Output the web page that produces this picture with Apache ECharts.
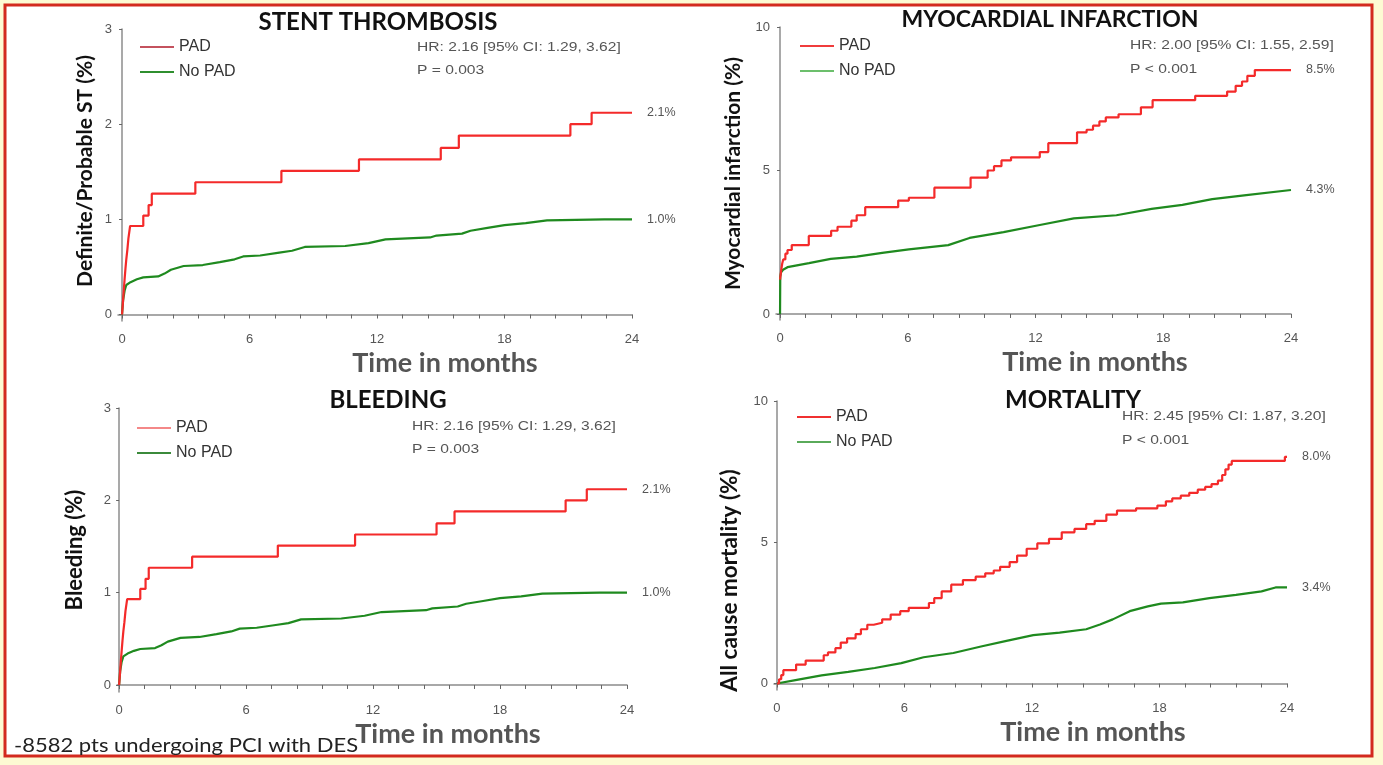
<!DOCTYPE html>
<html>
<head>
<meta charset="utf-8">
<script src="https://cdn.jsdelivr.net/npm/echarts@6/dist/echarts.min.js"></script>
<style>
  html, body { margin: 0; padding: 0; background: #fdfad3; }
  #chart { width: 1383px; height: 765px; }
</style>
</head>
<body>
<div id="chart"></div>
<script>
// time axis (months)
const monthLabels = [0, 6, 12, 18, 24];
const monthTicks = [0, 1.2, 2.4, 3.6, 4.8, 6, 7.2, 8.4, 9.6, 10.8, 12, 13.2, 14.4, 15.6, 16.8, 18, 19.2, 20.4, 21.6, 22.8, 24];
const ticks3 = [0, 1, 2, 3];
const ticks10 = [0, 5, 10];

// stent thrombosis  [month, %]
const stentPad = [[0,0],[0.04,0.12],[0.08,0.25],[0.12,0.37],[0.16,0.48],[0.2,0.58],[0.25,0.68],[0.3,0.8],[0.38,0.93],[1.0,1.04],[1.25,1.15],[1.4,1.27],[3.45,1.39],[7.5,1.51],[11.15,1.63],[15.0,1.75],[15.85,1.88],[21.1,2.0],[22.1,2.12],[24,2.12]];
const stentNoPad = [[0,0],[0.05,0.15],[0.12,0.25],[0.2,0.31],[0.4,0.34],[0.7,0.37],[1.0,0.39],[1.7,0.4],[2.0,0.43],[2.3,0.47],[2.9,0.51],[3.8,0.52],[4.6,0.55],[5.3,0.58],[5.7,0.61],[6.5,0.62],[7.4,0.65],[8.0,0.67],[8.6,0.71],[10.5,0.72],[11.6,0.75],[12.4,0.79],[14.5,0.81],[14.8,0.83],[16.0,0.85],[16.4,0.88],[17.2,0.91],[18.0,0.94],[19.0,0.96],[20.0,0.99],[22.7,1.0],[24,1.0]];

// myocardial infarction
const miPad = [[0,1.2],[0.05,1.5],[0.1,1.75],[0.15,1.9],[0.25,2.1],[0.35,2.23],[0.55,2.4],[1.35,2.72],[2.4,2.9],[2.7,3.04],[3.35,3.25],[3.6,3.44],[4.0,3.72],[5.55,3.95],[6.05,4.05],[7.25,4.4],[8.95,4.75],[9.75,5.0],[10.05,5.15],[10.4,5.35],[10.85,5.46],[12.2,5.64],[12.6,5.95],[13.95,6.33],[14.4,6.42],[14.7,6.56],[15.0,6.71],[15.3,6.85],[15.9,6.96],[16.95,7.2],[17.5,7.45],[19.5,7.6],[21.0,7.75],[21.4,7.95],[21.7,8.1],[21.95,8.3],[22.3,8.5],[24,8.5]];
const miNoPad = [[0,0],[0.01,1.3],[0.05,1.45],[0.14,1.54],[0.35,1.63],[1.36,1.77],[2.38,1.92],[3.6,2.0],[4.8,2.13],[6.05,2.25],[7.9,2.4],[8.9,2.65],[10.5,2.85],[12.2,3.1],[13.8,3.33],[15.8,3.44],[17.45,3.66],[18.9,3.8],[20.3,4.0],[21.9,4.14],[24,4.32]];

// bleeding (same curves as stent thrombosis in the source slide)
const bleedPad = stentPad;
const bleedNoPad = stentNoPad;

// all cause mortality
const mortPad = [[0,0],[0.1,0.15],[0.2,0.3],[0.3,0.47],[0.9,0.67],[1.35,0.81],[2.2,1.0],[2.4,1.1],[2.75,1.25],[3.0,1.45],[3.3,1.6],[3.7,1.75],[3.95,1.92],[4.25,2.08],[4.55,2.15],[4.95,2.27],[5.35,2.44],[5.8,2.56],[6.2,2.68],[7.15,2.85],[7.4,3.02],[7.75,3.26],[8.2,3.5],[8.75,3.66],[9.35,3.78],[9.8,3.9],[10.2,4.0],[10.5,4.13],[10.95,4.3],[11.3,4.53],[11.75,4.77],[12.25,4.96],[12.8,5.12],[13.4,5.35],[14.0,5.47],[14.55,5.64],[14.95,5.76],[15.5,5.98],[16.0,6.12],[16.9,6.2],[17.9,6.3],[18.3,6.45],[18.6,6.55],[19.0,6.65],[19.4,6.75],[19.8,6.86],[20.15,6.96],[20.45,7.06],[20.75,7.18],[20.95,7.38],[21.1,7.58],[21.25,7.75],[21.4,7.88],[23.9,8.02],[24,8.02]];
const mortNoPad = [[0,0],[0.87,0.12],[2.1,0.29],[3.35,0.41],[4.6,0.55],[5.85,0.72],[6.9,0.93],[8.3,1.08],[9.6,1.31],[10.8,1.51],[12.06,1.71],[13.3,1.8],[14.55,1.92],[15.2,2.09],[15.8,2.27],[16.6,2.56],[17.45,2.73],[18.07,2.83],[19.1,2.87],[20.35,3.02],[21.6,3.14],[22.8,3.26],[23.46,3.4],[24,3.4]];

const panels = [
  { title: 'STENT THROMBOSIS', yName: 'Definite/Probable ST (%)', pad: stentPad, noPad: stentNoPad,
    padEnd: '2.1%', noPadEnd: '1.0%', hr: 'HR: 2.16 [95% CI: 1.29, 3.62]', p: 'P = 0.003',
    yMax: 3, yMin: -0.068, xMin: -0.19, yTicks: ticks3,
    grid: { left: 118, right: 751, top: 29, bottom: 444 },
    titleXY: [378, 22], titleSize: 24, hrXY: [417, 47, 70], legendXY: [140, 38],
    legendColors: ['#c4525e', '#2f8f2f'], yGap: 22, yPadding: [0, 0, 0, 8], ySize: 21, xPad: 140 },
  { title: 'MYOCARDIAL INFARCTION', yName: 'Myocardial infarction (%)', pad: miPad, noPad: miNoPad,
    padEnd: '8.5%', noPadEnd: '4.3%', hr: 'HR: 2.00 [95% CI: 1.55, 2.59]', p: 'P < 0.001',
    yMax: 10, yMin: -0.21, xMin: -0.19, yTicks: ticks10,
    grid: { left: 776, right: 92, top: 27, bottom: 445 },
    titleXY: [1050, 20], titleSize: 23, hrXY: [1130, 45, 69], legendXY: [800, 37],
    legendColors: ['#f03c3c', '#6cbf6c'], yGap: 32, yPadding: [0, 0, 0, 0], ySize: 21, xPad: 123 },
  { title: 'BLEEDING', yName: 'Bleeding (%)', pad: bleedPad, noPad: bleedNoPad,
    padEnd: '2.1%', noPadEnd: '1.0%', hr: 'HR: 2.16 [95% CI: 1.29, 3.62]', p: 'P = 0.003',
    yMax: 3, yMin: -0.076, xMin: -0.1, yTicks: ticks3,
    grid: { left: 117, right: 756, top: 408, bottom: 73 },
    titleXY: [388, 400], titleSize: 24, hrXY: [412, 426, 449], legendXY: [137, 419],
    legendColors: ['#f48888', '#3b8a3b'], yGap: 31, yPadding: [0, 0, 0, 0], ySize: 22, xPad: 152 },
  { title: 'MORTALITY', yName: 'All cause mortality (%)', pad: mortPad, noPad: mortNoPad,
    padEnd: '8.0%', noPadEnd: '3.4%', hr: 'HR: 2.45 [95% CI: 1.87, 3.20]', p: 'P < 0.001',
    yMax: 10, yMin: -0.23, xMin: -0.14, yTicks: ticks10,
    grid: { left: 774, right: 96, top: 401, bottom: 75 },
    titleXY: [1073, 400], titleSize: 24, hrXY: [1122, 416, 440], legendXY: [797, 408],
    legendColors: ['#f03030', '#5aaa5a'], yGap: 33, yPadding: [0, 70, 0, 0], ySize: 22.5, xPad: 125 }
];

const RED = '#f42a2a';
const GREEN = '#1f8a1f';
const axisGray = '#8c8c8c';
const labelGray = '#555';

const grid = [], xAxis = [], yAxis = [], series = [], legend = [];
const graphic = [{
  type: 'rect', z: -10,
  shape: { x: 5, y: 5, width: 1367, height: 751 },
  style: { fill: '#fff', stroke: '#d32a1e', lineWidth: 3 }
}];

panels.forEach((p, i) => {
  grid.push(p.grid);
  xAxis.push({
    type: 'value', gridIndex: i, min: p.xMin, max: 24,
    name: 'Time in months', nameLocation: 'middle', nameGap: 29,
    nameTextStyle: { fontFamily: 'Lato', fontWeight: 'bold', fontSize: 27, color: '#555', padding: [0, 0, 0, p.xPad] },
    axisLine: { lineStyle: { color: axisGray, width: 1.5 } },
    axisTick: { customValues: monthTicks, length: 4, lineStyle: { color: '#666' } },
    axisLabel: { customValues: monthLabels, margin: 12, fontFamily: 'Liberation Sans', fontSize: 13, color: labelGray },
    splitLine: { show: false }
  });
  yAxis.push({
    type: 'value', gridIndex: i, min: p.yMin, max: p.yMax,
    name: p.yName, nameLocation: 'middle', nameGap: p.yGap,
    nameTextStyle: { fontFamily: 'Lato', fontWeight: 'bold', fontSize: p.ySize, color: '#111', padding: p.yPadding },
    axisLine: { show: true, lineStyle: { color: axisGray, width: 1.5 } },
    axisTick: { show: true, customValues: p.yTicks, length: 3, lineStyle: { color: '#666' } },
    axisLabel: { customValues: p.yTicks, margin: 6, fontFamily: 'Liberation Sans', fontSize: 13, color: labelGray },
    splitLine: { show: false }
  });
  const endLabel = (txt) => ({ show: true, formatter: txt, distance: 15, fontFamily: 'Liberation Sans', fontSize: 12.5, color: '#555' });
  series.push({
    name: 'PAD', type: 'line', xAxisIndex: i, yAxisIndex: i, data: p.pad, step: 'end',
    symbol: 'none', color: RED, lineStyle: { width: 2.2, color: RED }, endLabel: endLabel(p.padEnd), z: 4
  });
  series.push({
    name: 'No PAD', type: 'line', xAxisIndex: i, yAxisIndex: i, data: p.noPad,
    symbol: 'none', color: GREEN, lineStyle: { width: 2.2, color: GREEN }, endLabel: endLabel(p.noPadEnd), z: 3
  });
  legend.push({
    orient: 'vertical', left: p.legendXY[0], top: p.legendXY[1], padding: 0,
    itemWidth: 34, itemHeight: 2, itemGap: 7, icon: 'rect',
    textStyle: { fontFamily: 'Liberation Sans', fontSize: 16, color: '#333', lineHeight: 18 },
    data: [
      { name: 'PAD', itemStyle: { color: p.legendColors[0], borderWidth: 0 } },
      { name: 'No PAD', itemStyle: { color: p.legendColors[1], borderWidth: 0 } }
    ]
  });
  graphic.push({
    type: 'text', x: p.titleXY[0], y: p.titleXY[1],
    style: { text: p.title, font: 'bold ' + p.titleSize + 'px Lato', fill: '#111', align: 'center', textAlign: 'center', verticalAlign: 'middle', textVerticalAlign: 'middle' }
  });
  graphic.push({
    type: 'text', x: p.hrXY[0], y: p.hrXY[1], scaleX: 1.2,
    style: { text: p.hr, font: '13px "Liberation Sans"', fill: '#555', verticalAlign: 'middle', textVerticalAlign: 'middle' }
  });
  graphic.push({
    type: 'text', x: p.hrXY[0], y: p.hrXY[2], scaleX: 1.2,
    style: { text: p.p, font: '13px "Liberation Sans"', fill: '#555', verticalAlign: 'middle', textVerticalAlign: 'middle' }
  });
});

graphic.push({
  type: 'text', x: 14, y: 746, scaleX: 1.1,
  style: { text: '-8582 pts undergoing PCI with DES', font: '20px Lato', fill: '#222', verticalAlign: 'middle', textVerticalAlign: 'middle' }
});

const chart = echarts.init(document.getElementById('chart'));
chart.setOption({
  animation: false,
  backgroundColor: 'transparent',
  grid, xAxis, yAxis, series, legend, graphic
});
</script>
</body>
</html>
